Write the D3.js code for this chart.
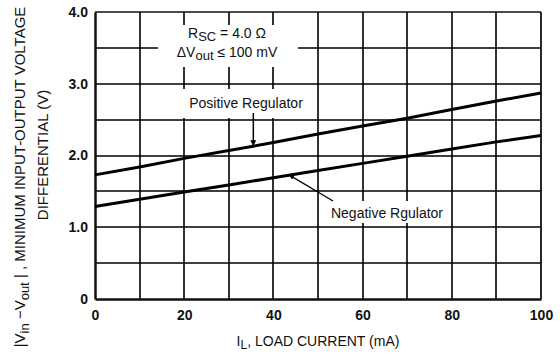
<!DOCTYPE html>
<html><head><meta charset="utf-8">
<script src="https://cdn.jsdelivr.net/npm/d3@7"></script>
<style>
body{margin:0;background:#fff;}
svg{display:block;}
text{font-family:"Liberation Sans",Arial,sans-serif;fill:#111;}
</style></head><body>
<svg id="c" width="560" height="357"></svg>
<script>
const loadCurrent = [0,10,20,30,40,50,60,70,80,90,100];
const positiveReg = [1.73,1.84,1.96,2.07,2.18,2.30,2.41,2.52,2.64,2.76,2.87];
const negativeReg = [1.29,1.39,1.49,1.59,1.69,1.79,1.89,1.99,2.09,2.19,2.28];
const xTickVals = [0,20,40,60,80,100];
const yTickVals = [0,1,2,3,4];
const yTickLabels = ["0","1.0","2.0","3.0","4.0"];
const xGrid = [10,20,30,40,50,60,70,80,90];
const yGrid = [0.5,1,1.5,2,2.5,3,3.5];

const svg = d3.select("#c");
const x = d3.scaleLinear().domain([0,100]).range([95,541]);
const y = d3.scaleLinear().domain([0,4]).range([299,12]);

// grid
const vPath = xGrid.map(d=>`M${Math.round(x(d))},${y(0)}V${y(4)}`).join("");
svg.append("path").attr("class","vgrid").attr("d",vPath)
  .attr("stroke","#000").attr("stroke-width",1.6).attr("fill","none");
const hPath = yGrid.map(d=>`M${x(0)},${Math.round(y(d))}H${x(100)}`).join("");
svg.append("path").attr("class","hgrid").attr("d",hPath)
  .attr("stroke","#000").attr("stroke-width",1.6).attr("fill","none");
// border
svg.append("line").attr("x1",x(0)).attr("x2",x(100)).attr("y1",y(4)).attr("y2",y(4)).attr("stroke","#111").attr("stroke-width",1.5);
svg.append("line").attr("x1",x(100)).attr("x2",x(100)).attr("y1",y(0)).attr("y2",y(4)).attr("stroke","#111").attr("stroke-width",1.8);

// white label boxes (break grid)
const boxes = [[158,25,140,42],[180,89,130,29],[325,201,125,22]];
boxes.forEach(d=>{
  svg.append("rect").attr("x",d[0]).attr("y",d[1]).attr("width",d[2]).attr("height",d[3]).attr("fill","#fff");
});

// axes
const xAxis = d3.axisBottom(x).tickValues(xTickVals).tickSize(0).tickPadding(11).tickFormat(d3.format("d"));
const yAxis = d3.axisLeft(y).tickValues(yTickVals).tickSize(0).tickPadding(7).tickFormat((d,i)=>yTickLabels[i]);
const xa = svg.append("g").attr("transform",`translate(0,${y(0)})`).call(xAxis);
const ya = svg.append("g").attr("transform",`translate(${x(0)},0)`).call(yAxis);
[xa,ya].forEach(a=>{a.select(".domain").attr("stroke","#111").attr("stroke-width",2.5);
  a.selectAll("text").attr("font-size",14).attr("font-weight","bold").attr("fill","#111")
   .style("font-family",'"Liberation Sans",Arial,sans-serif');});

// curves
const line = d3.line().x((d,i)=>x(loadCurrent[i])).y(d=>y(d));
svg.append("path").datum(positiveReg).attr("d",line).attr("fill","none").attr("stroke","#000").attr("stroke-width",3);
svg.append("path").datum(negativeReg).attr("d",line).attr("fill","none").attr("stroke","#000").attr("stroke-width",3);

// arrows
const defs = svg.append("defs");
defs.append("marker").attr("id","ah").attr("viewBox","0 0 10 10").attr("refX",10).attr("refY",5)
  .attr("markerWidth",4).attr("markerHeight",4).attr("orient","auto")
  .append("path").attr("d","M0,0 L10,5 L0,10 Z").attr("fill","#000");
svg.append("line").attr("x1",x(35.5)).attr("y1",113).attr("x2",x(35.5)).attr("y2",y(2.13))
  .attr("stroke","#000").attr("stroke-width",1.5).attr("marker-end","url(#ah)");
svg.append("line").attr("x1",333).attr("y1",201).attr("x2",x(43.5)).attr("y2",y(1.73))
  .attr("stroke","#000").attr("stroke-width",1.3).attr("marker-end","url(#ah)");

// annotation texts
const fs = 14;
const t1 = svg.append("text").attr("x",227).attr("y",38).attr("text-anchor","middle").attr("font-size",fs);
t1.append("tspan").text("R");
t1.append("tspan").attr("dy",3).attr("font-size",13).text("SC");
t1.append("tspan").attr("dy",-3).text(" = 4.0 Ω");
const t2 = svg.append("text").attr("x",227).attr("y",57).attr("text-anchor","middle").attr("font-size",fs);
t2.append("tspan").text("ΔV");
t2.append("tspan").attr("dy",3).attr("font-size",13).text("out");
t2.append("tspan").attr("dy",-3).text(" ≤ 100 mV");
svg.append("text").attr("x",246).attr("y",108).attr("text-anchor","middle").attr("font-size",fs).text("Positive Regulator");
svg.append("text").attr("x",387).attr("y",218).attr("text-anchor","middle").attr("font-size",fs).text("Negative Rgulator");

// x title
const xt = svg.append("text").attr("x",318).attr("y",346).attr("text-anchor","middle").attr("font-size",fs);
xt.append("tspan").text("I");
xt.append("tspan").attr("dy",3).attr("font-size",12).text("L");
xt.append("tspan").attr("dy",-3).text(", LOAD CURRENT (mA)");

// y title
const yt = svg.append("text").attr("transform","translate(25,177) rotate(-90)").attr("text-anchor","middle").attr("font-size",15);
yt.append("tspan").text("|V");
yt.append("tspan").attr("dy",4).attr("font-size",13).text("in");
yt.append("tspan").attr("dy",-4).text("  −V");
yt.append("tspan").attr("dy",4).attr("font-size",13).text("out");
yt.append("tspan").attr("dy",-4).text("  | , MINIMUM INPUT-OUTPUT VOLTAGE");
svg.append("text").attr("transform","translate(48,155) rotate(-90)").attr("text-anchor","middle").attr("font-size",15).text("DIFFERENTIAL (V)");
</script>
</body></html>
